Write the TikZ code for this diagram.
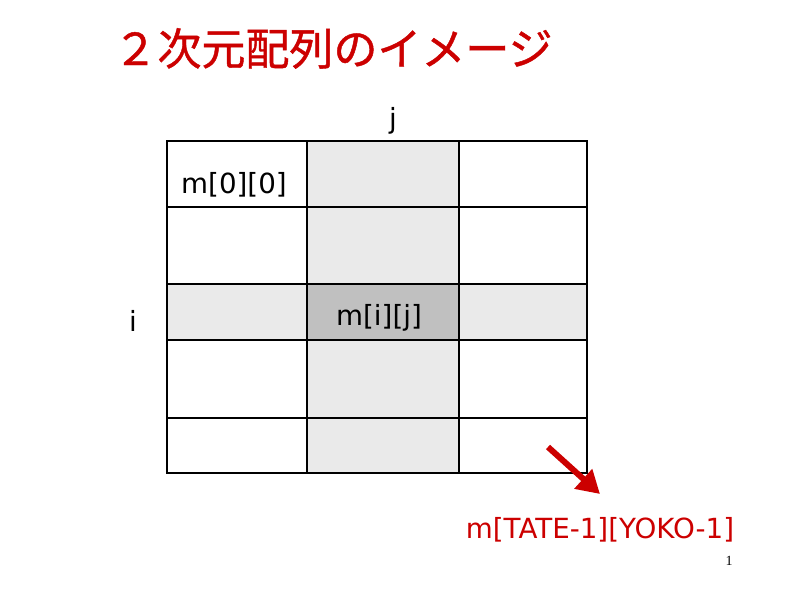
\documentclass[tikz,border=0pt]{standalone}
\usepackage{fontspec}
\setmainfont{DejaVu Sans}
\newfontfamily\cjkfont[FakeBold=1]{Noto Sans CJK JP}
\newfontfamily\pgnumfont{Liberation Serif}
\usetikzlibrary{arrows.meta}
\definecolor{titlered}{HTML}{CC0000}
\definecolor{lightcell}{HTML}{EAEAEA}
\definecolor{darkcell}{HTML}{C0C0C0}
\tikzset{
  gridline/.style={draw=black, line width=0.9pt},
  bodytext/.style={inner sep=0pt, anchor=base, font=\fontsize{20.8pt}{25pt}\selectfont},
  titletext/.style={inner sep=0pt, anchor=base, text=titlered, font=\cjkfont\fontsize{33pt}{40pt}\selectfont},
  redarrow/.style={draw=titlered, line width=4.5pt, -{Triangle[length=17pt,width=19pt]}},
}
\begin{document}
\begin{tikzpicture}[x=0.75pt,y=-0.75pt]
\useasboundingbox[fill=white] (0,0) rectangle (800,600);
% shaded column and row
\fill[lightcell] (307,141) rectangle (459,473);
\fill[lightcell] (167,284) rectangle (587,340);
\fill[darkcell] (307,284) rectangle (459,340);
% grid
\draw[gridline] (167,141) rectangle (587,473);
\draw[gridline] (307,141) -- (307,473);
\draw[gridline] (459,141) -- (459,340);
\draw[draw=black, line width=1.5pt] (459,340) -- (459,473);
\draw[gridline] (167,207) -- (587,207);
\draw[gridline] (167,284) -- (459,284);
\draw[draw=black, line width=1.5pt] (459,284) -- (587,284);
\draw[gridline] (167,340) -- (587,340);
\draw[gridline] (167,418) -- (587,418);
% texts
\node[titletext] (title) at (333,65) {２次元配列のイメージ};
\node[bodytext] (jlabel) at (393,128) {j};
\node[bodytext] (ilabel) at (133,331) {i};
\node[bodytext] (m00) at (234,193) {m[0][0]};
\node[bodytext] (mij) at (379,325) {m[i][j]};
\node[bodytext, text=titlered] (mlast) at (600,538) {m[TATE-1][YOKO-1]};
\node[inner sep=0pt, anchor=base, font=\pgnumfont\fontsize{10.5pt}{12pt}\selectfont] (pagenum) at (729,565) {1};
% arrow
\coordinate (arrowstart) at (548,447);
\coordinate (arrowend) at (600,494);
\draw[redarrow] (arrowstart) -- (arrowend);
\end{tikzpicture}
\end{document}
